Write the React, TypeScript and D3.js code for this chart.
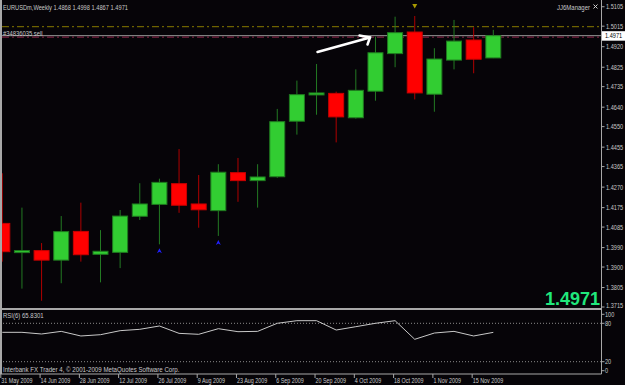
import React from "react";
import * as d3 from "d3";

const dates = ["31 May 2009","7 Jun 2009","14 Jun 2009","21 Jun 2009","28 Jun 2009","5 Jul 2009","12 Jul 2009","19 Jul 2009","26 Jul 2009","2 Aug 2009","9 Aug 2009","16 Aug 2009","23 Aug 2009","30 Aug 2009","6 Sep 2009","13 Sep 2009","20 Sep 2009","27 Sep 2009","4 Oct 2009","11 Oct 2009","18 Oct 2009","25 Oct 2009","1 Nov 2009","8 Nov 2009","15 Nov 2009","22 Nov 2009"];
const opens = [1.4102,1.3972,1.3976,1.3932,1.4065,1.3959,1.3968,1.4135,1.4190,1.4286,1.4192,1.4161,1.4337,1.4300,1.4318,1.4575,1.4701,1.4704,1.4591,1.4714,1.4888,1.4988,1.4700,1.4858,1.4951,1.4868];
const highs = [1.4334,1.4175,1.4011,1.4136,1.4198,1.4071,1.4164,1.4288,1.4309,1.4446,1.4326,1.4376,1.4405,1.4376,1.4632,1.4763,1.4840,1.4712,1.4815,1.4966,1.5059,1.5062,1.4913,1.5044,1.5010,1.4998];
const lows = [1.3925,1.3800,1.3744,1.3825,1.3925,1.3829,1.3895,1.4118,1.4005,1.4151,1.4082,1.4044,1.4202,1.4175,1.4313,1.4513,1.4605,1.4477,1.4587,1.4670,1.4825,1.4676,1.4619,1.4815,1.4797,1.4867];
const closes = [1.3971,1.3976,1.3932,1.4064,1.3957,1.3973,1.4136,1.4192,1.4292,1.4186,1.4165,1.4339,1.4300,1.4317,1.4573,1.4698,1.4706,1.4595,1.4718,1.4892,1.4985,1.4706,1.4863,1.4946,1.4862,1.4971];
const rsiValues = [65.9,65.9,63.3,67.4,60.2,62.2,68.5,70.6,75.8,64.3,62.8,71.6,66.9,67.4,80,84.1,84.1,69.5,74.7,80,84.1,55,64.8,67.4,60.2,65.83];
const priceTicks = ["1.5105","1.5015","1.4920","1.4825","1.4735","1.4640","1.4550","1.4455","1.4365","1.4270","1.4175","1.4085","1.3990","1.3900","1.3805","1.3715"];
const rsiTicks = ["100","80","20","0"];
const rsiLevels = [80, 20];
const upArrowBars = [8, 11];
const downMarkBars = [21];
const bidPrice = 1.4971;
const sellPrice = 1.4964;
const levelPrice = 1.5013;
const title = "EURUSDm,Weekly  1.4868 1.4998 1.4867 1.4971";
const rsiTitle = "RSI(6) 65.8301";
const footer = "Interbank FX Trader 4, \u00a9 2001-2009 MetaQuotes Software Corp.";
const orderLabel = "#34836035 sell";
const eaLabel = "JJ6Manager";

const W = 625, H = 385;
const AXIS_X = 601.5;
const MAIN_BOTTOM = 308;
const RSI_BOTTOM = 374;

const x = d3.scaleLinear().domain([0, 25]).range([2.3, 493.3]);
const y = d3.scaleLinear().domain([1.3715, 1.492]).range([307, 46.7]);
const yr = d3.scaleLinear().domain([0, 100]).range([374.5, 310.5]);

const FONT = "'Liberation Sans', Arial, sans-serif";
const TXT = "#c8c8c8";

function T({ x: tx, y: ty, sx = 0.8, size = 7.5, fill = TXT, anchor = "start", weight = "normal", children }: any) {
  return (
    <text transform={`translate(${tx},${ty}) scale(${sx},1)`} fontFamily={FONT} fontSize={size}
      fill={fill} textAnchor={anchor} fontWeight={weight}>{children}</text>
  );
}

export default function App() {
  const bw = 15;
  const rsiLine = d3.line<number>().x((_, i) => x(i)).y((v) => yr(v))(rsiValues) || "";
  return (
    <div style={{ position: "fixed", left: 0, top: 0 }}>
      <svg width={W} height={H} style={{ display: "block" }}>
        <defs>
          <clipPath id="main">
            <rect x={2} y={0} width={AXIS_X - 2} height={MAIN_BOTTOM} />
          </clipPath>
        </defs>
        <rect x={0} y={0} width={W} height={H} fill="#060408" />
        {/* horizontal level lines */}
        <line x1={2} x2={AXIS_X} y1={y(levelPrice)} y2={y(levelPrice)} stroke="#6e6200" strokeWidth={1.2} strokeDasharray="7,3,2,3" />
        <line x1={2} x2={AXIS_X} y1={y(bidPrice)} y2={y(bidPrice)} stroke="#9a9a9a" strokeWidth={1} />
        <line x1={2} x2={AXIS_X} y1={y(sellPrice)} y2={y(sellPrice)} stroke="#7a2040" strokeWidth={1.2} strokeDasharray="7,3,2,3" />
        {/* candles */}
        <g clipPath="url(#main)">
          {opens.map((o, i) => {
            const c = closes[i];
            const up = c >= o;
            const cx = x(i);
            const top = y(Math.max(o, c));
            const bot = y(Math.min(o, c));
            return (
              <g key={i}>
                <line x1={cx} x2={cx} y1={y(highs[i])} y2={y(lows[i])} stroke={up ? "#237a23" : "#b00000"} strokeWidth={1} />
                <rect x={cx - bw / 2} y={top} width={bw} height={Math.max(bot - top, 2)}
                  fill={up ? "#32cd32" : "#ff0000"} stroke={up ? "#1f7a1f" : "#c80000"} strokeWidth={1} />
              </g>
            );
          })}
          {upArrowBars.map((i) => {
            const cx = x(i), cy = y(lows[i]) + 7;
            return <path key={"ua" + i} d={`M${cx},${cy - 3}L${cx + 2.5},${cy + 2}L${cx},${cy + 0.5}L${cx - 2.5},${cy + 2}Z`} fill="#2020ff" />;
          })}
          {downMarkBars.map((i) => {
            const cx = x(i);
            return <path key={"dm" + i} d={`M${cx - 2.5},4L${cx + 2.5},4L${cx},8.5Z`} fill="#a89a00" />;
          })}
        </g>
        {/* hand-drawn arrow */}
        <g stroke="#ffffff" strokeWidth={2.5} strokeLinecap="round" fill="none">
          <line x1={317.5} y1={52} x2={370} y2={37.5} />
          <polyline points="359.5,35.5 370,37.5 367.5,44.5" />
        </g>
        {/* texts top-left */}
        <T x={3} y={9.5} sx={0.76}>{title}</T>
        <T x={3} y={35.5} sx={0.78}>{orderLabel}</T>
        <T x={590} y={9.5} sx={0.8} anchor="end">{eaLabel}</T>
        <g stroke="#d0d0d0" strokeWidth={1}>
          <line x1={593.5} y1={4.5} x2={597.5} y2={8.5} />
          <line x1={597.5} y1={4.5} x2={593.5} y2={8.5} />
        </g>
        {/* big price */}
        <text x={600} y={304.5} textAnchor="end" fontFamily={FONT} fontWeight="bold" fontSize={18} fill="#20e87c">1.4971</text>
        {/* borders */}
        <line x1={1} x2={1} y1={0} y2={RSI_BOTTOM} stroke="#a8a8a8" strokeWidth={2} />
        <line x1={0} x2={AXIS_X} y1={MAIN_BOTTOM + 1} y2={MAIN_BOTTOM + 1} stroke="#a8a8a8" strokeWidth={2} />
        <line x1={0} x2={AXIS_X} y1={RSI_BOTTOM} y2={RSI_BOTTOM} stroke="#a8a8a8" strokeWidth={1} />
        <line x1={AXIS_X} x2={AXIS_X} y1={0} y2={RSI_BOTTOM} stroke="#a8a8a8" strokeWidth={1} />
        {/* price axis */}
        {priceTicks.map((t, k) => {
          const py = y(+t);
          const ly = k === priceTicks.length - 1 ? py - 2 : py;
          return (
            <g key={t}>
              <line x1={AXIS_X} x2={AXIS_X + 3} y1={py} y2={py} stroke="#a8a8a8" />
              <T x={606} y={ly + 2.5} size={7}>{t}</T>
            </g>
          );
        })}
        <rect x={602} y={y(bidPrice) - 4.5} width={23} height={9.5} fill="#ffffff" />
        <T x={605} y={y(bidPrice) + 2.8} size={7} fill="#000000">{bidPrice.toFixed(4)}</T>
        {/* RSI panel */}
        {rsiLevels.map((l) => (
          <line key={l} x1={3} x2={AXIS_X} y1={yr(l)} y2={yr(l)} stroke="#8a8a8a" strokeWidth={1} strokeDasharray="1,2" />
        ))}
        <path d={rsiLine} fill="none" stroke="#c8c8c8" strokeWidth={1} />
        <T x={3} y={318} sx={0.8}>{rsiTitle}</T>
        <T x={3} y={371.5} sx={0.82}>{footer}</T>
        {rsiTicks.map((t) => {
          const v = +t;
          const py = yr(v);
          const ly = v === 100 ? py + 3.8 : v === 0 ? py - 3.8 : py;
          return (
            <g key={t}>
              <line x1={AXIS_X} x2={AXIS_X + 3} y1={ly} y2={ly} stroke="#a8a8a8" />
              <T x={605} y={ly + 2.5} size={7}>{t}</T>
            </g>
          );
        })}
        {/* date axis */}
        {dates.map((d, i) => (i % 2 === 0 ? (
          <g key={d}>
            <line x1={x(i) - 1.5} x2={x(i) - 1.5} y1={RSI_BOTTOM} y2={RSI_BOTTOM + 4} stroke="#a8a8a8" />
            <T x={x(i) - 1} y={383} sx={0.72}>{d}</T>
          </g>
        ) : null))}
      </svg>
    </div>
  );
}
